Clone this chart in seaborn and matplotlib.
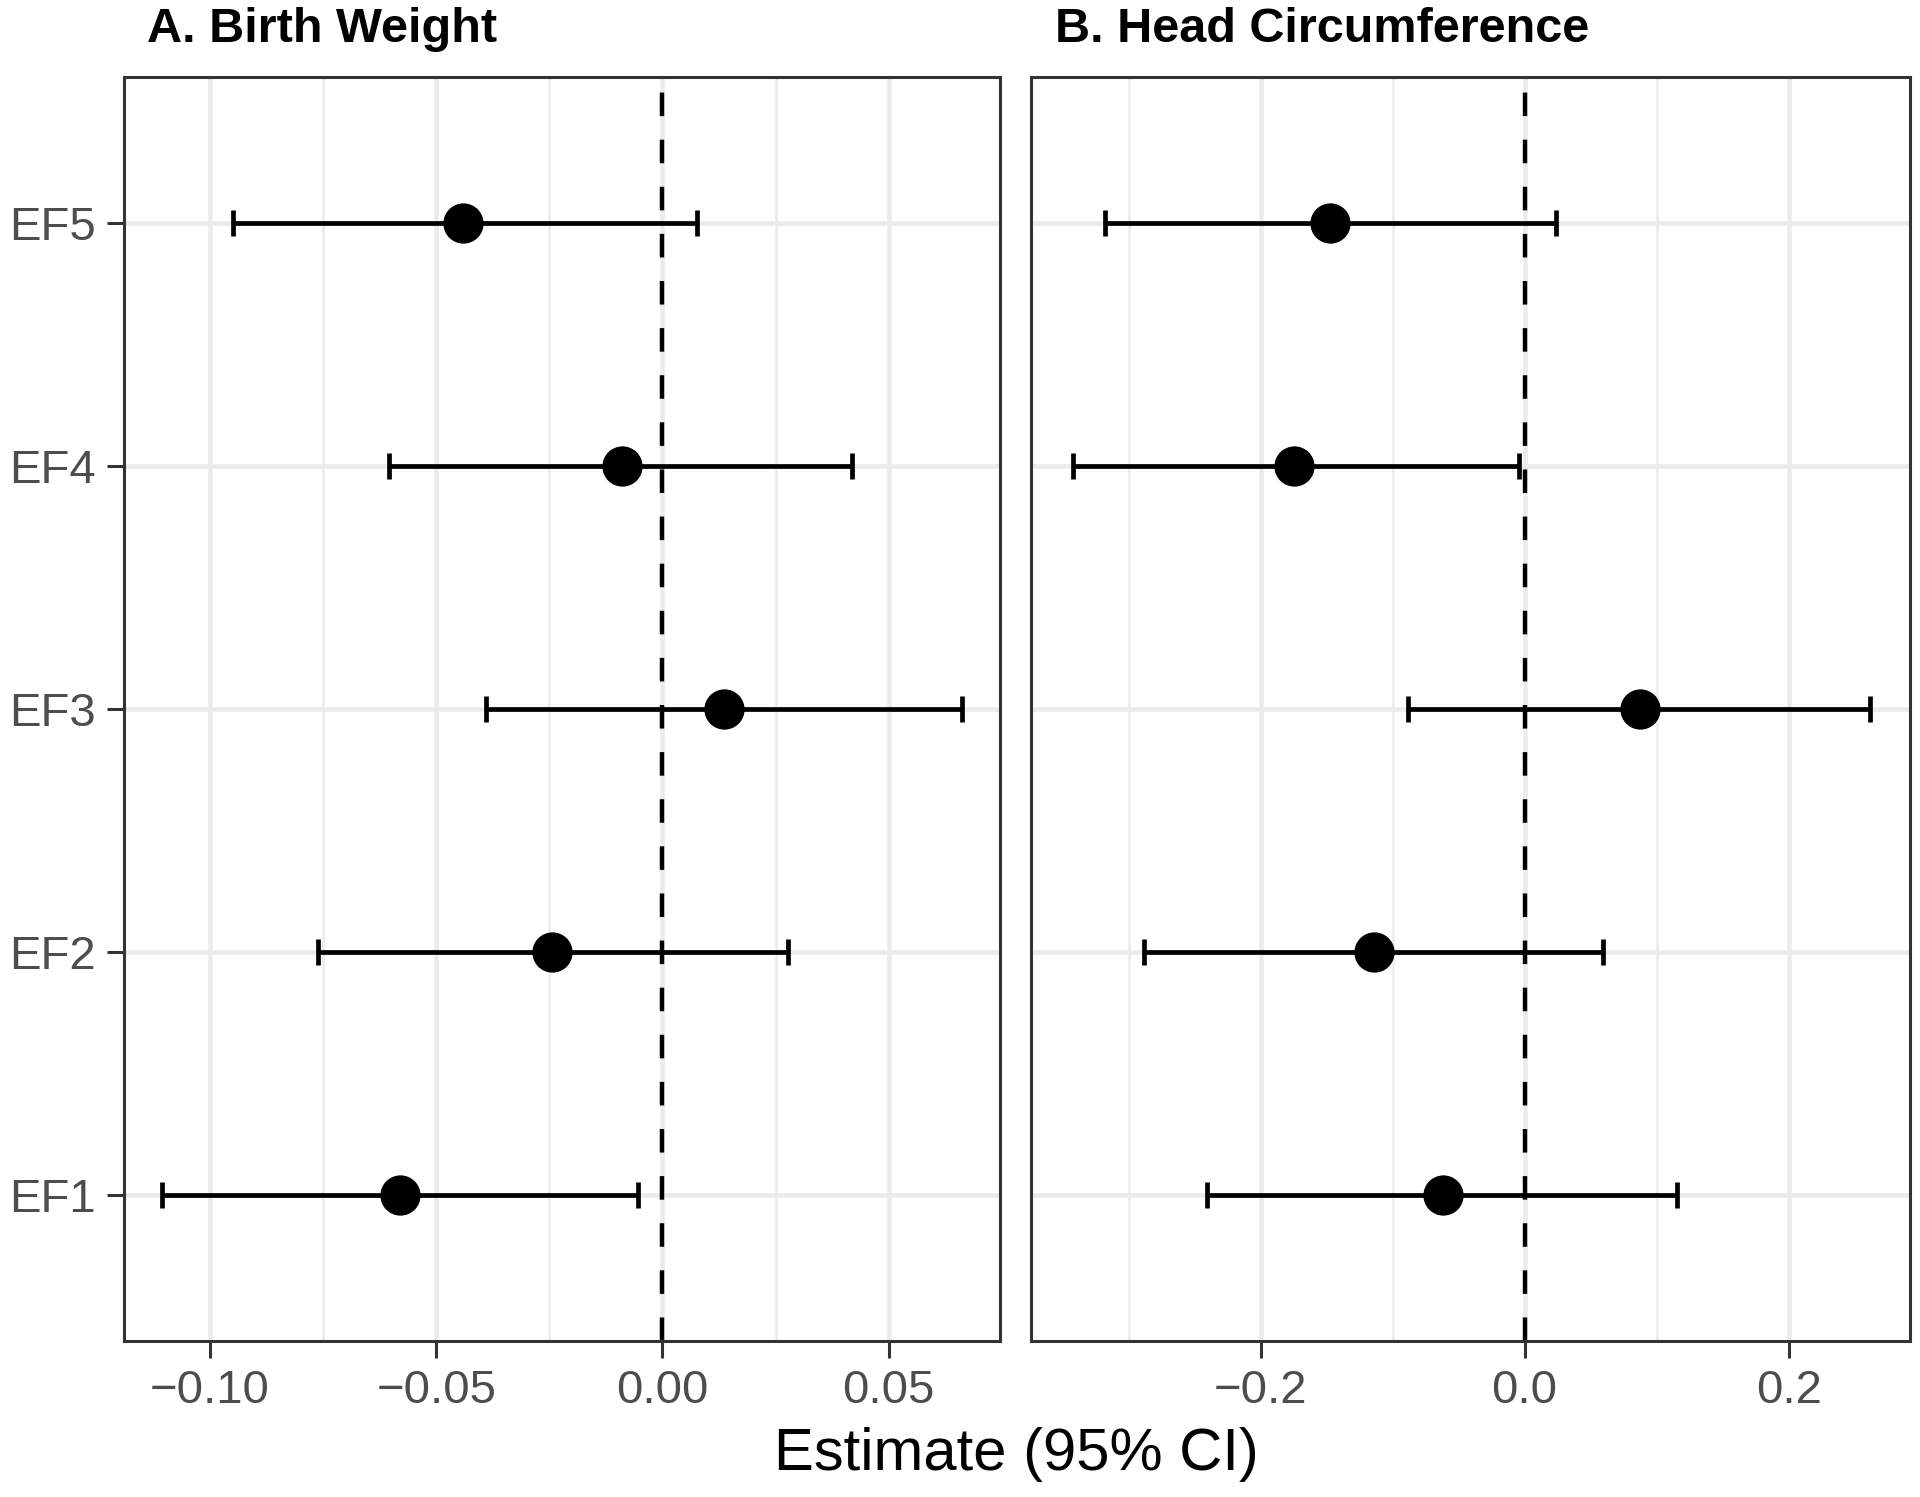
import numpy as np
import pandas as pd
import matplotlib
matplotlib.use("Agg")
import matplotlib.pyplot as plt
from matplotlib.ticker import MultipleLocator
import seaborn as sns

# ── Data ──
factors = ["EF1", "EF2", "EF3", "EF4", "EF5"]

bw_est = [-0.0581, -0.0243, 0.0135, -0.0089, -0.0440]
bw_lo = [-0.1105, -0.0762, -0.0389, -0.0605, -0.0949]
bw_hi = [-0.0054, 0.0278, 0.0662, 0.0420, 0.0076]

hc_est = [-0.0622, -0.1142, 0.0872, -0.1745, -0.1476]
hc_lo = [-0.2404, -0.2886, -0.0882, -0.3425, -0.3183]
hc_hi = [0.1151, 0.0594, 0.2617, -0.0046, 0.0241]

panel_titles = ["A. Birth Weight", "B. Head Circumference"]
x_limits = [(-0.119, 0.0746), (-0.374, 0.292)]
major_steps = [0.05, 0.2]
minor_steps = [0.025, 0.1]
tick_fmt = ["{:.2f}", "{:.1f}"]

# ── Theme (ggplot theme_bw look) ──
sns.set_theme(style="white")
plt.rcParams["font.family"] = ["Liberation Sans", "DejaVu Sans"]
plt.rcParams["axes.unicode_minus"] = True

fig = plt.figure(figsize=(19.2, 14.97), dpi=100)
axes = [
    fig.add_axes([124 / 1920, 1 - 1341 / 1497, (1000 - 124) / 1920, (1341 - 77) / 1497]),
    fig.add_axes([1031 / 1920, 1 - 1341 / 1497, (1910 - 1031) / 1920, (1341 - 77) / 1497]),
]

frames = [
    pd.DataFrame({"factor": factors, "est": bw_est, "lo": bw_lo, "hi": bw_hi}),
    pd.DataFrame({"factor": factors, "est": hc_est, "lo": hc_lo, "hi": hc_hi}),
]

for i, (ax, df) in enumerate(zip(axes, frames)):
    df["ypos"] = np.arange(1, len(df) + 1)

    ax.set_xlim(*x_limits[i])
    ax.set_ylim(0.4, len(df) + 0.6)
    ax.xaxis.set_major_locator(MultipleLocator(major_steps[i]))
    ax.xaxis.set_minor_locator(MultipleLocator(minor_steps[i]))
    ax.set_yticks(df["ypos"])

    ax.grid(which="major", axis="both", color="#EBEBEB", lw=3.3, zorder=0)
    ax.grid(which="minor", axis="x", color="#EBEBEB", lw=1.8, zorder=0)
    ax.set_axisbelow(True)

    ax.axvline(0, color="black", lw=3.2, ls=(0, (5.3, 5.3)), zorder=2)

    ax.errorbar(df["est"], df["ypos"],
                xerr=[df["est"] - df["lo"], df["hi"] - df["est"]],
                fmt="none", ecolor="black", elinewidth=3.4,
                capsize=9.5, capthick=3.4, zorder=3)
    sns.scatterplot(data=df, x="est", y="ypos", ax=ax, color="black",
                    s=29 ** 2, edgecolor="black", linewidth=0, zorder=4,
                    legend=False)

    ax.set_xticklabels([tick_fmt[i].format(t).replace("-", "\u2212")
                        for t in ax.get_xticks()])
    if i == 0:
        ax.set_yticklabels(df["factor"])
        ax.tick_params(axis="y", length=12, width=2.2, color="#333333",
                       labelsize=34, labelcolor="#4D4D4D", pad=8, left=True)
    else:
        ax.set_yticklabels([])
        ax.tick_params(axis="y", length=0, left=False)
    ax.tick_params(axis="x", which="major", length=12, width=2.2,
                   color="#333333", labelsize=34, labelcolor="#4D4D4D",
                   pad=8, bottom=True)
    ax.tick_params(axis="x", which="minor", length=0)
    ax.set_xlabel("")
    ax.set_ylabel("")

    for sp in ax.spines.values():
        sp.set_color("#333333")
        sp.set_linewidth(2.2)
        sp.set_visible(True)

fig.text(147 / 1920, 1 - 30 / 1497, panel_titles[0], ha="left", va="center",
         fontsize=35, fontweight="bold", color="black")
fig.text(1055 / 1920, 1 - 30 / 1497, panel_titles[1], ha="left", va="center",
         fontsize=35, fontweight="bold", color="black")
fig.text(1016 / 1920, 1 - 1455 / 1497, "Estimate (95% CI)", ha="center",
         va="center", fontsize=43, color="black")

fig.savefig("out.png", dpi=100)
